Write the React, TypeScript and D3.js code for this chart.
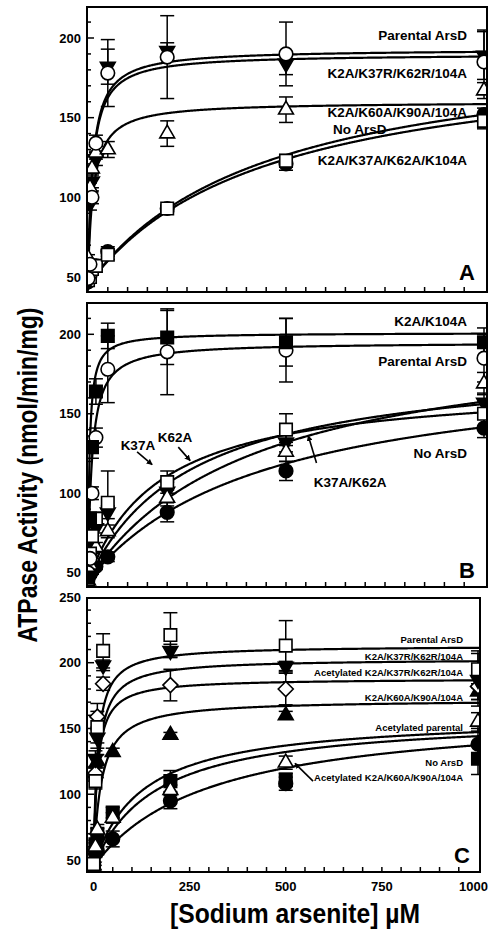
import * as d3 from 'd3';
import React, { useEffect, useRef } from 'react';

const W = 489;
const H = 929;
const FONT = '"Liberation Sans", Arial, Helvetica, sans-serif';

// arsenite concentrations, µM
const dosesAB = [0, 5, 10, 20, 50, 200, 500, 1000];
const dosesC = [0, 5, 10, 25, 50, 200, 500, 1000];

// panel A – activity (nmol/min/mg) and SD
const parentalA = [49, 58, 100, 134, 178, 188, 190, 185];
const parentalAErr = [2, 3, 4, 5, 21, 26, 20, 20];
const k37rA = [47, 96, 110, 124, 182, 192, 184, 189];
const k37rAErr = [2, 4, 4, 4, 11, 5, 7, 15];
const k60aA = [62, 106, 118, 128, 130, 140, 155, 167];
const k60aAErr = [2, 3, 3, 4, 5, 8, 8, 5];
const noArsdA = [47, 51, 54, 57, 66, 93, 121, 152];
const noArsdAErr = [2, 2, 2, 2, 3, 2, 4, 4];
const k37aA = [48, 50, 55, 57, 64, 93, 123, 148];
const k37aAErr = [2, 2, 2, 2, 3, 2, 4, 5];

// panel B
const k104aB = [47, 84, 129, 164, 199, 198, 195, 195];
const k104aBErr = [2, 3, 7, 8, 8, 17, 15, 9];
const parentalB = [50, 59, 100, 135, 178, 189, 190, 185];
const parentalBErr = [2, 3, 4, 6, 21, 27, 20, 15];
const k37aB = [46, 62, 73, 84, 94, 107, 140, 150];
const k37aBErr = [2, 3, 3, 4, 20, 7, 10, 8];
const k62aB = [45, 56, 66, 78, 88, 101, 132, 157];
const k62aBErr = [2, 2, 3, 3, 4, 6, 6, 6];
const k37ak62aB = [45, 55, 60, 66, 76, 97, 126, 169];
const k37ak62aBErr = [2, 2, 2, 3, 4, 5, 6, 7];
const noArsdB = [46, 49, 51, 54, 60, 88, 114, 141];
const noArsdBErr = [2, 2, 2, 2, 3, 6, 6, 6];

// panel C
const parentalC = [47, 110, 151, 209, null, 221, 213, 195];
const parentalCErr = [3, 6, 12, 13, null, 17, 19, 14];
const k37rC = [45, 127, 143, 198, null, 209, 197, 187];
const k37rCErr = [3, 6, 8, 4, null, 5, 4, 20];
const acK37rC = [46, 116, 159, 184, null, 183, 180, 182];
const acK37rCErr = [3, 5, 10, 5, null, 12, 12, 10];
const k60aC = [45, 116, 125, null, 132, 145, 160, 178];
const k60aCErr = [3, 4, 5, null, 3, 2, 3, 6];
const acParentalC = [46, 60, 73, null, 82, 103, 124, 155];
const acParentalCErr = [3, 3, 4, null, 4, 4, 5, 7];
const acK60aC = [44, 62, 70, null, 86, 110, 111, 127];
const acK60aCErr = [3, 3, 4, null, 4, 8, 5, 12];
const noArsdC = [45, 55, 57, null, 66, 95, 108, 138];
const noArsdCErr = [2, 3, 3, null, 6, 6, 5, 12];

// fitted curves: [basal, Vmax, Km]
const fitsA = [[48, 145, 12], [48, 142, 12], [50, 110, 14], [45, 155, 450], [45, 150, 450]];
const fitsB = [[46, 155, 4], [46, 149, 10], [45, 125, 180], [45, 140, 260], [45, 160, 420], [45, 140, 450]];
const fitsC = [[45, 168, 10], [45, 158, 12], [45, 143, 10], [45, 127, 20], [45, 115, 125], [45, 115, 160], [45, 120, 300]];

const yTicksAB = [50, 100, 150, 200];
const yTicksC = [50, 100, 150, 200, 250];
const xTickLabels = [0, 250, 500, 750, 1000];

const panels = [
  {
    letter: 'A',
    frame: { left: 87, top: 7, right: 487, bottom: 292 },
    xRange: [88, 484], yRange: [277, 38],
    yTicks: yTicksAB, doses: dosesAB, xLabels: false,
    series: [
      { y: noArsdA, err: noArsdAErr, marker: 'circleFilled' },
      { y: k37aA, err: k37aAErr, marker: 'square' },
      { y: k37rA, err: k37rAErr, marker: 'triDown' },
      { y: k60aA, err: k60aAErr, marker: 'triUp' },
      { y: parentalA, err: parentalAErr, marker: 'circle' },
    ],
    fits: fitsA,
    labels: [
      { t: 'Parental ArsD', x: 957, y: 201.5, a: 'end' },
      { t: 'K2A/K37R/K62R/104A', x: 957, y: 178, a: 'end' },
      { t: 'K2A/K60A/K90A/104A', x: 957, y: 153.5, a: 'end' },
      { t: 'No ArsD', x: 619, y: 143, a: 'start' },
      { t: 'K2A/K37A/K62A/K104A', x: 957, y: 123.5, a: 'end' },
    ],
    labelSize: 13.5,
    arrows: [],
    letterAt: [467, 280],
  },
  {
    letter: 'B',
    frame: { left: 87, top: 303, right: 487, bottom: 587 },
    xRange: [88, 484], yRange: [572.7, 334.3],
    yTicks: yTicksAB, doses: dosesAB, xLabels: false,
    series: [
      { y: noArsdB, err: noArsdBErr, marker: 'circleFilled' },
      { y: k62aB, err: k62aBErr, marker: 'triDown' },
      { y: k37ak62aB, err: k37ak62aBErr, marker: 'triUp' },
      { y: k37aB, err: k37aBErr, marker: 'square' },
      { y: parentalB, err: parentalBErr, marker: 'circle' },
      { y: k104aB, err: k104aBErr, marker: 'squareFilled' },
    ],
    fits: fitsB,
    labels: [
      { t: 'K2A/K104A', x: 957, y: 208, a: 'end' },
      { t: 'Parental ArsD', x: 957, y: 183, a: 'end' },
      { t: 'No ArsD', x: 957, y: 125, a: 'end' },
      { t: 'K37A', x: 126, y: 130, a: 'middle' },
      { t: 'K62A', x: 220, y: 135.5, a: 'middle' },
      { t: 'K37A/K62A', x: 662, y: 107, a: 'middle' },
    ],
    labelSize: 13.5,
    arrows: [
      [[124, 126], [162, 118]],
      [[228, 129], [258, 120.5]],
      [[577, 119], [556, 136.3]],
    ],
    letterAt: [467, 578],
  },
  {
    letter: 'C',
    frame: { left: 87, top: 598, right: 480, bottom: 872 },
    xRange: [93.5, 478], yRange: [860, 662.7],
    yTicks: yTicksC, doses: dosesC, xLabels: true,
    series: [
      { y: noArsdC, err: noArsdCErr, marker: 'circleFilled' },
      { y: acK60aC, err: acK60aCErr, marker: 'squareFilled' },
      { y: acParentalC, err: acParentalCErr, marker: 'triUp' },
      { y: k60aC, err: k60aCErr, marker: 'triUpFilled' },
      { y: acK37rC, err: acK37rCErr, marker: 'diamond' },
      { y: k37rC, err: k37rCErr, marker: 'triDown' },
      { y: parentalC, err: parentalCErr, marker: 'square' },
    ],
    fits: fitsC,
    labels: [
      { t: 'Parental ArsD', x: 961, y: 217.3, a: 'end' },
      { t: 'K2A/K37R/K62R/104A', x: 961, y: 205, a: 'end' },
      { t: 'Acetylated K2A/K37R/K62R/104A', x: 961, y: 192.4, a: 'end' },
      { t: 'K2A/K60A/K90A/104A', x: 961, y: 173.7, a: 'end' },
      { t: 'Acetylated parental', x: 961, y: 151, a: 'end' },
      { t: 'No ArsD', x: 961, y: 124, a: 'end' },
      { t: 'Acetylated K2A/K60A/K90A/104A', x: 961, y: 113, a: 'end' },
    ],
    labelSize: 9.5,
    arrows: [[[571, 110], [524, 123.5]]],
    letterAt: [462, 863],
  },
];

function markerPath(kind: string) {
  if (kind.startsWith('circle')) return d3.symbol(d3.symbolCircle, 145)();
  if (kind.startsWith('square')) return d3.symbol(d3.symbolSquare, 156)();
  if (kind.startsWith('tri')) return d3.symbol(d3.symbolTriangle, 95)();
  return 'M0,-7.5L7.5,0L0,7.5L-7.5,0Z';
}

export default function App() {
  const ref = useRef<SVGSVGElement>(null);

  useEffect(() => {
    const svg = d3.select(ref.current);
    svg.selectAll('*').remove();
    const defs = svg.append('defs');
    defs.append('marker')
      .attr('id', 'arrowhead')
      .attr('viewBox', '0 0 10 10')
      .attr('refX', 9).attr('refY', 5)
      .attr('markerWidth', 6).attr('markerHeight', 6)
      .attr('markerUnits', 'userSpaceOnUse')
      .attr('orient', 'auto')
      .append('path').attr('d', 'M0,0L10,5L0,10Z').attr('fill', '#000');

    panels.forEach((p, pi) => {
      const x = d3.scaleLinear().domain([0, 1000]).range(p.xRange);
      const y = d3.scaleLinear().domain([50, 200]).range(p.yRange);
      const f = p.frame;
      const g = svg.append('g');

      defs.append('clipPath').attr('id', 'clip' + pi)
        .append('rect')
        .attr('x', f.left).attr('y', f.top)
        .attr('width', f.right - f.left).attr('height', f.bottom - f.top);

      // y ticks, inward
      const yLo = Math.ceil(y.invert(f.bottom) / 10) * 10;
      const yHi = Math.floor(y.invert(f.top) / 10) * 10;
      d3.range(yLo, yHi + 1, 10).forEach((v) => {
        const major = v % 50 === 0;
        g.append('line')
          .attr('x1', f.left).attr('x2', f.left + (major ? 7 : 4))
          .attr('y1', y(v)).attr('y2', y(v))
          .attr('stroke', '#000').attr('stroke-width', 1.5);
      });
      g.selectAll('.ylab').data(p.yTicks).enter().append('text')
        .attr('x', f.left - 6).attr('y', (d) => y(d)).attr('dy', '0.36em')
        .attr('text-anchor', 'end')
        .attr('font-family', FONT).attr('font-weight', 'bold').attr('font-size', 13)
        .text((d) => d);

      // x ticks
      d3.range(50, 1000, 50).forEach((v) => {
        g.append('line')
          .attr('x1', x(v)).attr('x2', x(v))
          .attr('y1', f.bottom).attr('y2', f.bottom - 5)
          .attr('stroke', '#000').attr('stroke-width', 1.5);
      });
      if (p.xLabels) {
        // last label would run past the page edge, so it is right-aligned to it
        g.selectAll('.xlab').data(xTickLabels).enter().append('text')
          .attr('x', (d) => (d === 1000 ? W - 1 : x(d))).attr('y', f.bottom + 19)
          .attr('text-anchor', (d) => (d === 1000 ? 'end' : 'middle'))
          .attr('font-family', FONT).attr('font-weight', 'bold').attr('font-size', 13)
          .text((d) => d);
      }

      const plot = g.append('g').attr('clip-path', `url(#clip${pi})`);

      // fitted curves
      const xEnd = x.invert(f.right);
      const xs = d3.range(0, 20, 0.25).concat(d3.range(20, xEnd + 2, 2));
      p.fits.forEach(([v0, vmax, km]) => {
        const line = d3.line<number>()
          .x((d) => x(d))
          .y((d) => y(v0 + (vmax * d) / (km + d)));
        plot.append('path')
          .attr('d', line(xs))
          .attr('fill', 'none').attr('stroke', '#000').attr('stroke-width', 2.2);
      });

      // error bars
      p.series.forEach((s) => {
        s.y.forEach((v, i) => {
          if (v == null) return;
          const e = s.err[i] as number;
          const cx = x(p.doses[i]);
          const eg = plot.append('g').attr('stroke', '#000').attr('stroke-width', 1.5);
          eg.append('line').attr('x1', cx).attr('x2', cx).attr('y1', y(v - e)).attr('y2', y(v + e));
          [v - e, v + e].forEach((c) => {
            eg.append('line').attr('x1', cx - 7).attr('x2', cx + 7).attr('y1', y(c)).attr('y2', y(c));
          });
        });
      });

      // markers
      p.series.forEach((s) => {
        const filled = s.marker.endsWith('Filled') || s.marker === 'triDown';
        const pts = s.y.map((v, i) => ({ v, d: p.doses[i] })).filter((o) => o.v != null);
        plot.selectAll(null).data(pts).enter().append('path')
          .attr('d', markerPath(s.marker))
          .attr('transform', (o) => `translate(${x(o.d)},${y(o.v as number)})${s.marker === 'triDown' ? ' rotate(180)' : ''}`)
          .attr('fill', filled ? '#000' : '#fff')
          .attr('stroke', '#000').attr('stroke-width', 1.6);
      });

      // series labels
      g.selectAll('.slab').data(p.labels).enter().append('text')
        .attr('x', (d) => x(d.x)).attr('y', (d) => y(d.y)).attr('dy', '0.36em')
        .attr('text-anchor', (d) => d.a)
        .attr('font-family', FONT).attr('font-weight', 'bold').attr('font-size', p.labelSize)
        .text((d) => d.t);

      p.arrows.forEach(([a, b]) => {
        g.append('line')
          .attr('x1', x(a[0])).attr('y1', y(a[1]))
          .attr('x2', x(b[0])).attr('y2', y(b[1]))
          .attr('stroke', '#000').attr('stroke-width', 1.6)
          .attr('marker-end', 'url(#arrowhead)');
      });

      // frame
      g.append('rect')
        .attr('x', f.left).attr('y', f.top)
        .attr('width', f.right - f.left).attr('height', f.bottom - f.top)
        .attr('fill', 'none').attr('stroke', '#000').attr('stroke-width', 2);

      g.append('text')
        .attr('x', p.letterAt[0]).attr('y', p.letterAt[1])
        .attr('text-anchor', 'middle')
        .attr('font-family', FONT).attr('font-weight', 'bold').attr('font-size', 22)
        .text(p.letter);
    });

    svg.append('text')
      .attr('transform', 'translate(37,475) rotate(-90)')
      .attr('text-anchor', 'middle')
      .attr('font-family', FONT).attr('font-weight', 'bold').attr('font-size', 27)
      .attr('textLength', 335).attr('lengthAdjust', 'spacingAndGlyphs')
      .text('ATPase Activity (nmol/min/mg)');

    svg.append('text')
      .attr('x', 295).attr('y', 923)
      .attr('text-anchor', 'middle')
      .attr('font-family', FONT).attr('font-weight', 'bold').attr('font-size', 28)
      .attr('textLength', 250).attr('lengthAdjust', 'spacingAndGlyphs')
      .text('[Sodium arsenite] µM');
  }, []);

  return (
    <svg
      ref={ref}
      width={W}
      height={H}
      style={{ position: 'absolute', left: 0, top: 0, background: '#fff' }}
    />
  );
}
